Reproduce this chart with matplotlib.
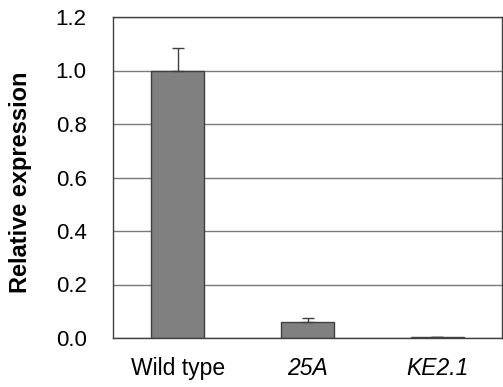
import matplotlib
matplotlib.use("Agg")
import matplotlib.pyplot as plt

categories = ["Wild type", "25A", "KE2.1"]
values = [1.0, 0.058, 0.003]
errors = [0.084, 0.018, 0.0]

plt.rcParams['font.family'] = ['Liberation Sans', 'DejaVu Sans']

fig = plt.figure(figsize=(5.03, 3.87), dpi=100)
ax = fig.add_axes([113/503, 1 - 338/387, 389/503, 321/387])

x = list(range(len(categories)))
ax.set_axisbelow(True)
ax.yaxis.grid(True, color="#7a7a7a", linewidth=1.0)
ax.bar(x, values, width=0.41, color="#808080", edgecolor="#404040", linewidth=1.0,
       yerr=[[0] * len(errors), errors],
       error_kw=dict(ecolor="#404040", elinewidth=1.0, capsize=4, capthick=1.0))
ax.set_xlim(-0.5, 2.5)
ax.set_ylim(0, 1.2)
ticks = [0.0, 0.2, 0.4, 0.6, 0.8, 1.0, 1.2]
ax.set_yticks(ticks)
ax.set_yticklabels([f"{v:.1f}" for v in ticks])
ax.set_xticks(x)
ax.set_xticklabels(categories)
for lbl in ax.get_xticklabels()[1:]:
    lbl.set_style("italic")
ax.tick_params(axis="y", length=0, pad=19, labelsize=16)
ax.tick_params(axis="x", length=0, pad=14, labelsize=16.5)
for s in ax.spines.values():
    s.set_color("#404040")
    s.set_linewidth(1.0)
ax.set_ylabel("Relative expression", fontsize=17, fontweight="bold")
ax.yaxis.set_label_coords((32 - 113) / 389, (338 - 182.5) / 321)
fig.savefig("out.png", dpi=100)
